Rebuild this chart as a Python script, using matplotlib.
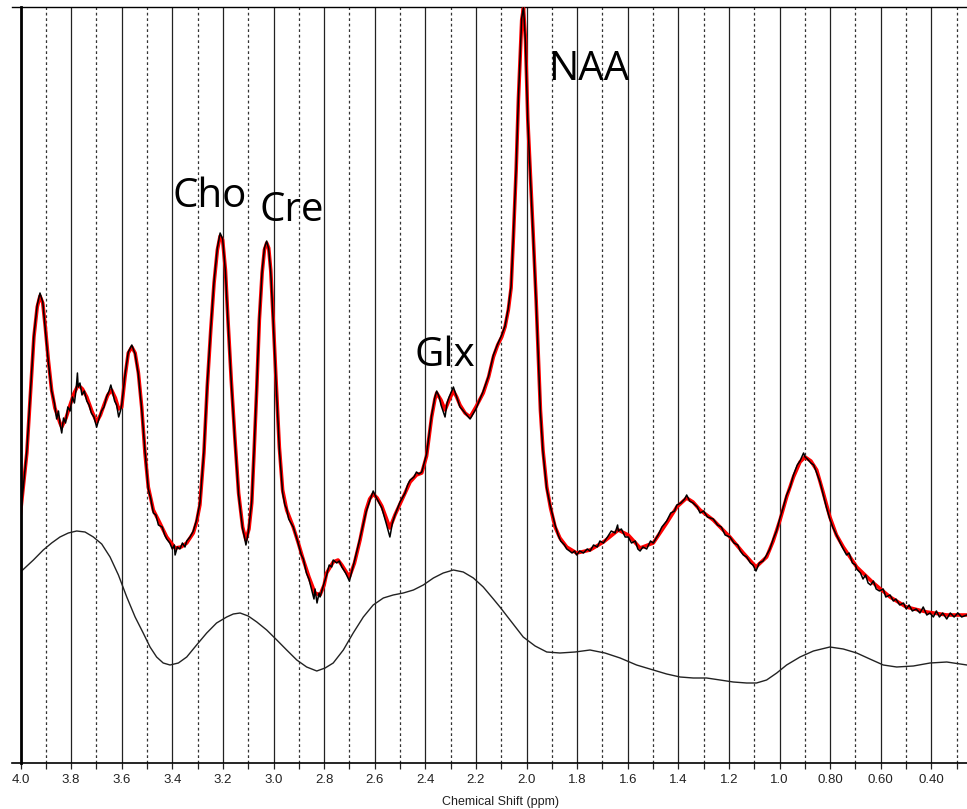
import numpy as np
import matplotlib.pyplot as plt
from matplotlib.ticker import FixedLocator

plt.rcParams['font.family'] = ['Liberation Sans', 'DejaVu Sans']

# fitted spectrum (ppm, intensity a.u.)
fit = np.array([
    (4.000, 250), (3.975, 310), (3.960, 372), (3.947, 426), (3.934, 456),
    (3.923, 467), (3.912, 460), (3.902, 436), (3.890, 403), (3.877, 373),
    (3.864, 355), (3.844, 340), (3.837, 336), (3.820, 345), (3.804, 358),
    (3.788, 370), (3.772, 378), (3.755, 374), (3.738, 366), (3.718, 352),
    (3.699, 341), (3.684, 348), (3.670, 358), (3.655, 368), (3.640, 373),
    (3.625, 365), (3.612, 354), (3.600, 356), (3.587, 386), (3.574, 410),
    (3.560, 416), (3.547, 410), (3.534, 390), (3.521, 356), (3.508, 310),
    (3.495, 276), (3.475, 253), (3.455, 243), (3.422, 226), (3.389, 215),
    (3.365, 216), (3.343, 220), (3.317, 230), (3.304, 241), (3.291, 258),
    (3.275, 310), (3.262, 376), (3.248, 433), (3.235, 480), (3.222, 513),
    (3.211, 527), (3.201, 523), (3.190, 493), (3.180, 443), (3.167, 383),
    (3.153, 326), (3.138, 270), (3.122, 236), (3.109, 223), (3.097, 234),
    (3.086, 260), (3.077, 310), (3.066, 376), (3.056, 443), (3.045, 490),
    (3.036, 513), (3.027, 520), (3.019, 515), (3.011, 493), (3.001, 443),
    (2.990, 383), (2.977, 316), (2.964, 273), (2.948, 253), (2.922, 236),
    (2.902, 220), (2.882, 203), (2.860, 186), (2.836, 170), (2.816, 168),
    (2.800, 178), (2.790, 190), (2.764, 201), (2.745, 203), (2.730, 198),
    (2.700, 186), (2.680, 200), (2.658, 223), (2.634, 253), (2.620, 264),
    (2.606, 269), (2.590, 265), (2.572, 257), (2.540, 235), (2.520, 248),
    (2.500, 259), (2.460, 281), (2.435, 288), (2.414, 290), (2.395, 307),
    (2.375, 346), (2.362, 364), (2.355, 370), (2.338, 363), (2.322, 353),
    (2.306, 363), (2.289, 372), (2.276, 366), (2.263, 358), (2.243, 350),
    (2.223, 346), (2.200, 356), (2.171, 370), (2.150, 386), (2.131, 406),
    (2.114, 418), (2.098, 426), (2.085, 436), (2.072, 453), (2.061, 475),
    (2.052, 525), (2.041, 593), (2.032, 664), (2.019, 743), (2.012, 755),
    (2.004, 723), (1.995, 644), (1.984, 585), (1.973, 525), (1.962, 463),
    (1.953, 406), (1.945, 353), (1.935, 313), (1.920, 276), (1.905, 255),
    (1.887, 236), (1.868, 225), (1.841, 216), (1.802, 210), (1.749, 213),
    (1.696, 221), (1.637, 233), (1.598, 228), (1.551, 215), (1.499, 220),
    (1.446, 240), (1.406, 256), (1.367, 265), (1.342, 261), (1.314, 253),
    (1.262, 243), (1.196, 226), (1.143, 210), (1.093, 196), (1.051, 206),
    (1.025, 222), (0.998, 243), (0.972, 266), (0.945, 286), (0.919, 301),
    (0.899, 306), (0.876, 302), (0.853, 293), (0.828, 271), (0.801, 246),
    (0.775, 228), (0.748, 216), (0.695, 196), (0.629, 180), (0.563, 166),
    (0.499, 156), (0.418, 151), (0.339, 148), (0.260, 148),
])

# measured spectrum (ppm, intensity a.u.)
measured = np.array([
    (4.000, 248), (3.975, 312), (3.960, 374), (3.947, 428), (3.934, 458),
    (3.923, 470), (3.912, 461), (3.902, 434), (3.890, 401), (3.877, 372),
    (3.866, 360), (3.857, 344), (3.850, 352), (3.843, 338), (3.837, 330),
    (3.830, 345), (3.822, 340), (3.813, 356), (3.804, 352), (3.795, 366),
    (3.787, 360), (3.780, 374), (3.775, 390), (3.772, 376), (3.765, 380),
    (3.757, 368), (3.748, 372), (3.738, 362), (3.729, 358), (3.720, 350),
    (3.710, 346), (3.699, 336), (3.690, 344), (3.680, 352), (3.670, 356),
    (3.660, 366), (3.650, 372), (3.643, 378), (3.637, 372), (3.628, 362),
    (3.620, 358), (3.612, 346), (3.605, 352), (3.600, 358), (3.587, 388),
    (3.574, 411), (3.560, 418), (3.547, 409), (3.534, 388), (3.521, 354),
    (3.508, 312), (3.495, 274), (3.485, 264), (3.475, 250), (3.465, 248),
    (3.455, 238), (3.440, 236), (3.430, 228), (3.422, 224), (3.410, 220),
    (3.400, 214), (3.392, 218), (3.389, 208), (3.380, 216), (3.370, 214),
    (3.360, 220), (3.350, 216), (3.343, 222), (3.330, 226), (3.317, 232),
    (3.304, 243), (3.291, 260), (3.275, 312), (3.262, 378), (3.248, 435),
    (3.235, 482), (3.222, 515), (3.211, 530), (3.201, 524), (3.190, 491),
    (3.180, 441), (3.167, 381), (3.153, 324), (3.138, 268), (3.122, 234),
    (3.115, 226), (3.109, 218), (3.100, 230), (3.086, 262), (3.077, 312),
    (3.066, 378), (3.056, 445), (3.045, 492), (3.036, 515), (3.027, 522),
    (3.019, 514), (3.011, 491), (3.001, 441), (2.990, 381), (2.977, 314),
    (2.964, 270), (2.955, 258), (2.948, 254), (2.940, 244), (2.922, 236),
    (2.905, 222), (2.890, 208), (2.882, 204), (2.870, 190), (2.860, 184),
    (2.848, 172), (2.840, 164), (2.836, 174), (2.828, 160), (2.820, 170),
    (2.816, 166), (2.800, 180), (2.790, 188), (2.780, 198), (2.770, 196),
    (2.764, 203), (2.750, 200), (2.740, 202), (2.730, 196), (2.715, 190),
    (2.700, 182), (2.690, 192), (2.680, 202), (2.658, 225), (2.634, 251),
    (2.620, 262), (2.606, 272), (2.595, 266), (2.572, 255), (2.555, 240),
    (2.540, 226), (2.530, 240), (2.520, 248), (2.500, 261), (2.480, 270),
    (2.470, 278), (2.460, 283), (2.445, 286), (2.435, 291), (2.425, 289),
    (2.414, 291), (2.395, 309), (2.375, 348), (2.362, 366), (2.355, 372),
    (2.345, 366), (2.338, 358), (2.330, 352), (2.322, 346), (2.314, 360),
    (2.306, 366), (2.289, 376), (2.276, 366), (2.263, 356), (2.243, 350),
    (2.223, 344), (2.200, 354), (2.171, 372), (2.150, 387), (2.131, 408),
    (2.114, 419), (2.098, 428), (2.085, 437), (2.072, 455), (2.061, 477),
    (2.052, 527), (2.041, 595), (2.032, 666), (2.019, 745), (2.012, 756),
    (2.004, 720), (1.995, 642), (1.984, 583), (1.973, 522), (1.962, 461),
    (1.953, 404), (1.945, 351), (1.935, 311), (1.920, 274), (1.905, 256),
    (1.887, 238), (1.875, 228), (1.865, 222), (1.850, 218), (1.841, 214),
    (1.830, 212), (1.820, 210), (1.810, 212), (1.802, 208), (1.790, 212),
    (1.775, 210), (1.760, 214), (1.749, 212), (1.735, 218), (1.720, 216),
    (1.710, 222), (1.696, 220), (1.680, 226), (1.665, 232), (1.650, 230),
    (1.640, 238), (1.637, 232), (1.625, 234), (1.610, 226), (1.598, 226),
    (1.585, 220), (1.570, 222), (1.560, 214), (1.551, 212), (1.540, 216),
    (1.525, 214), (1.510, 222), (1.499, 220), (1.480, 228), (1.465, 236),
    (1.446, 242), (1.430, 250), (1.415, 252), (1.406, 258), (1.390, 260),
    (1.375, 264), (1.367, 268), (1.355, 262), (1.342, 260), (1.325, 256),
    (1.314, 250), (1.300, 252), (1.285, 246), (1.262, 244), (1.245, 238),
    (1.230, 236), (1.215, 228), (1.196, 226), (1.180, 220), (1.165, 218),
    (1.155, 212), (1.143, 208), (1.130, 206), (1.115, 200), (1.105, 198),
    (1.093, 192), (1.080, 200), (1.065, 202), (1.051, 208), (1.038, 214),
    (1.025, 224), (1.012, 232), (0.998, 245), (0.985, 256), (0.972, 268),
    (0.958, 276), (0.945, 288), (0.930, 298), (0.919, 302), (0.905, 310),
    (0.899, 306), (0.890, 304), (0.876, 300), (0.865, 298), (0.853, 290),
    (0.840, 281), (0.828, 269), (0.815, 256), (0.801, 244), (0.790, 236),
    (0.775, 228), (0.760, 220), (0.748, 214), (0.735, 208), (0.725, 210),
    (0.712, 200), (0.700, 198), (0.695, 194), (0.680, 190), (0.670, 184),
    (0.660, 188), (0.650, 180), (0.640, 178), (0.629, 182), (0.618, 174),
    (0.605, 172), (0.590, 174), (0.580, 166), (0.563, 168), (0.550, 162),
    (0.540, 164), (0.525, 158), (0.510, 160), (0.499, 154), (0.488, 158),
    (0.475, 152), (0.460, 154), (0.445, 150), (0.432, 156), (0.418, 148),
    (0.405, 150), (0.392, 146), (0.380, 152), (0.368, 146), (0.355, 150),
    (0.339, 144), (0.325, 150), (0.310, 146), (0.295, 150), (0.280, 146),
    (0.260, 148),
])

# baseline under the fit (ppm, intensity a.u.)
baseline = np.array([
    (4.000, 191), (3.949, 203), (3.910, 213), (3.877, 220), (3.844, 226),
    (3.811, 230), (3.778, 232), (3.745, 231), (3.712, 226), (3.679, 219),
    (3.646, 206), (3.613, 188), (3.580, 166), (3.547, 146), (3.515, 130),
    (3.488, 116), (3.462, 106), (3.436, 100), (3.409, 98), (3.376, 100),
    (3.343, 106), (3.304, 118), (3.264, 130), (3.225, 140), (3.185, 146),
    (3.159, 149), (3.132, 150), (3.100, 147), (3.066, 141), (3.027, 133),
    (2.987, 123), (2.948, 113), (2.908, 103), (2.869, 96), (2.829, 92),
    (2.796, 95), (2.764, 100), (2.724, 113), (2.685, 130), (2.645, 146),
    (2.606, 158), (2.566, 165), (2.527, 168), (2.487, 170), (2.447, 173),
    (2.408, 178), (2.368, 185), (2.329, 190), (2.289, 193), (2.250, 191),
    (2.210, 185), (2.171, 176), (2.131, 164), (2.105, 156), (2.059, 141),
    (2.013, 126), (1.966, 117), (1.920, 111), (1.868, 110), (1.808, 111),
    (1.749, 113), (1.690, 110), (1.630, 105), (1.565, 98), (1.499, 93),
    (1.446, 89), (1.393, 86), (1.341, 85), (1.288, 85), (1.235, 83),
    (1.183, 81), (1.130, 80), (1.091, 80), (1.051, 83), (1.011, 90),
    (0.972, 98), (0.919, 106), (0.866, 112), (0.801, 116), (0.748, 114),
    (0.695, 110), (0.643, 104), (0.590, 98), (0.537, 96), (0.471, 97),
    (0.405, 100), (0.339, 101), (0.259, 98),
])

major_ticks = [4.0, 3.8, 3.6, 3.4, 3.2, 3.0, 2.8, 2.6, 2.4, 2.2, 2.0,
               1.8, 1.6, 1.4, 1.2, 1.0, 0.8, 0.6, 0.4]
major_labels = ['4.0', '3.8', '3.6', '3.4', '3.2', '3.0', '2.8', '2.6', '2.4',
                '2.2', '2.0', '1.8', '1.6', '1.4', '1.2', '1.0', '0.80', '0.60', '0.40']
minor_ticks = [3.9, 3.7, 3.5, 3.3, 3.1, 2.9, 2.7, 2.5, 2.3, 2.1, 1.9,
               1.7, 1.5, 1.3, 1.1, 0.9, 0.7, 0.5, 0.3]

# metabolite name, position (ppm), height of text baseline
peak_names = ['Cho', 'Cre', 'Glx', 'NAA']
name_ppm = [3.251, 2.927, 2.322, 1.753]
name_y = [556, 542, 397, 683]

W, H = 967, 809
fig = plt.figure(figsize=(W / 100, H / 100), dpi=100)
ax = fig.add_axes([20.5 / W, 46 / H, 1 - 20.5 / W, 756 / H])
ax.set_xlim(4.0, 0.259)
ax.set_ylim(0, 756)

# vertical grid: solid every 0.2 ppm, dashed in between
ax.xaxis.set_major_locator(FixedLocator(major_ticks))
ax.xaxis.set_minor_locator(FixedLocator(minor_ticks))
ax.set_xticklabels(major_labels)
ax.grid(True, which='major', axis='x', color='#222222', lw=0.9, ls='-')
ax.grid(True, which='minor', axis='x', color='#333333', lw=0.9, ls=(0, (2.2, 2.2)))
ax.set_axisbelow(True)
ax.set_yticks([])

ax.tick_params(axis='x', which='both', direction='out', length=4, width=0.9,
               color='#222222', pad=4, labelsize=9.5, labelcolor='#222222')

for side in ['top', 'right', 'bottom']:
    ax.spines[side].set_visible(False)
ax.spines['left'].set_linewidth(2.0)

# frame lines at top and bottom run a little past the left axis
ax.plot([-0.009, 1], [1, 1], transform=ax.transAxes, color='k', lw=1.0, clip_on=False)
ax.plot([-0.009, 1], [0, 0], transform=ax.transAxes, color='k', lw=1.2, clip_on=False)

ax.plot(baseline[:, 0], baseline[:, 1], color='#222222', lw=1.0)
ax.plot(fit[:, 0], fit[:, 1], color='red', lw=2.6, solid_joinstyle='round')
ax.plot(measured[:, 0], measured[:, 1], color='black', lw=1.1, solid_joinstyle='round')

for name, x, y in zip(peak_names, name_ppm, name_y):
    ax.text(x, y, name, fontsize=29, family=['Open Sans', 'DejaVu Sans'],
            ha='center', va='baseline', color='black')

fig.text(501 / W, 7 / H, 'Chemical Shift (ppm)', fontsize=9, color='#222222',
         ha='center', va='center')

fig.savefig('out.png', dpi=100)
